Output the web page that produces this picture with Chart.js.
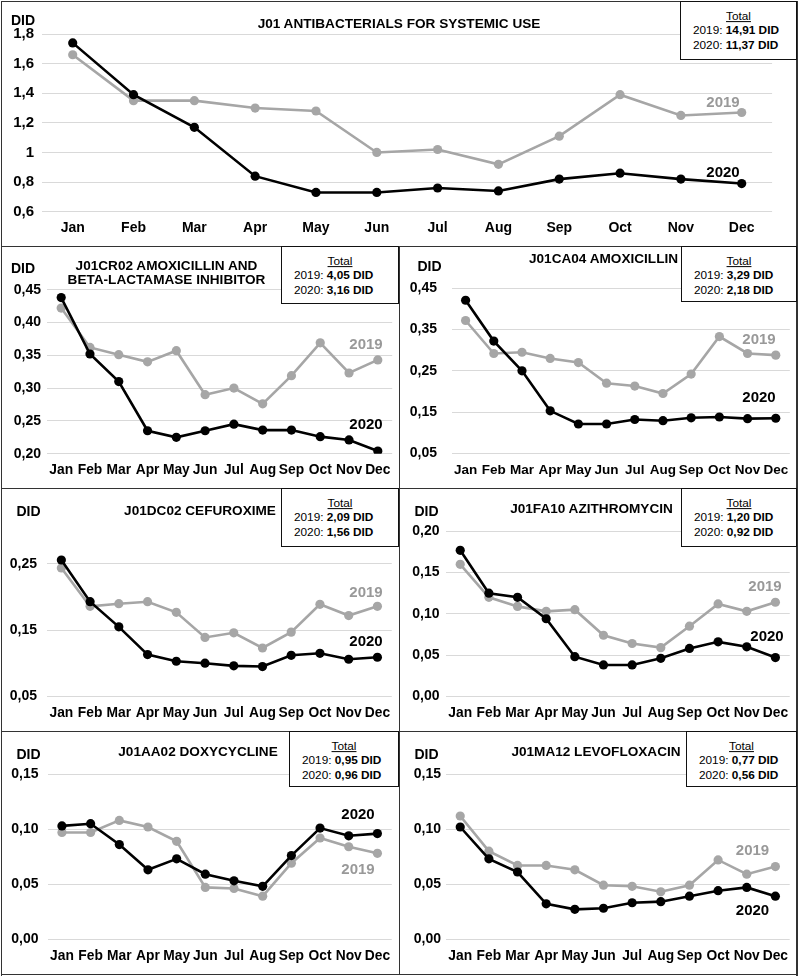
<!DOCTYPE html>
<html>
<head>
<meta charset="utf-8">
<script src="https://cdn.jsdelivr.net/npm/chart.js@4.4.1/dist/chart.umd.min.js"></script>
<style>
  html,body{margin:0;padding:0;background:#fff;}
  #wrap{position:relative;width:800px;height:978px;overflow:hidden;font-family:"Liberation Sans",Arial,sans-serif;color:#000;}
  canvas{position:absolute;}
  .txt{position:absolute;white-space:nowrap;line-height:1;transform:translate(-50%,-50%);font-weight:bold;}
  .line{position:absolute;background:#333;z-index:5;}
  .box{position:absolute;background:#fff;border:1.3px solid #111;box-sizing:border-box;z-index:6;font-size:11.8px;}
  .box .tt{position:absolute;left:50%;transform:translate(-50%,-50%);text-decoration:underline;white-space:nowrap;line-height:1;}
  .box .ln{position:absolute;transform:translateY(-50%);white-space:nowrap;line-height:1;}
</style>
</head>
<body>
<div id="wrap"></div>
<script>
// ---------- DATA ----------
const months = ['Jan','Feb','Mar','Apr','May','Jun','Jul','Aug','Sep','Oct','Nov','Dec'];

const j01_2019 = [1.66,1.35,1.35,1.30,1.28,1.00,1.02,0.92,1.11,1.39,1.25,1.27];
const j01_2020 = [1.74,1.39,1.17,0.84,0.73,0.73,0.76,0.74,0.82,0.86,0.82,0.79];
const j01Ticks = [0.6,0.8,1,1.2,1.4,1.6,1.8];

const cr02_2019 = [0.422,0.362,0.351,0.340,0.357,0.290,0.300,0.276,0.319,0.369,0.323,0.343];
const cr02_2020 = [0.438,0.352,0.310,0.235,0.225,0.235,0.245,0.236,0.236,0.226,0.221,0.204];
const cr02Ticks = [0.20,0.25,0.30,0.35,0.40,0.45];

const ca04_2019 = [0.372,0.292,0.295,0.280,0.270,0.220,0.213,0.195,0.242,0.333,0.292,0.288];
const ca04_2020 = [0.421,0.322,0.250,0.153,0.121,0.121,0.132,0.129,0.136,0.138,0.134,0.135];
const ca04Ticks = [0.05,0.15,0.25,0.35,0.45];

const dc02_2019 = [0.244,0.186,0.190,0.193,0.177,0.139,0.146,0.123,0.147,0.189,0.172,0.186];
const dc02_2020 = [0.256,0.193,0.155,0.113,0.103,0.100,0.096,0.095,0.112,0.115,0.106,0.109];
const dc02Ticks = [0.05,0.15,0.25];

const fa10_2019 = [0.160,0.120,0.109,0.103,0.105,0.074,0.064,0.059,0.085,0.112,0.103,0.114];
const fa10_2020 = [0.177,0.125,0.120,0.094,0.048,0.038,0.038,0.046,0.058,0.066,0.060,0.047];
const fa10Ticks = [0,0.05,0.10,0.15,0.20];

const aa02_2019 = [0.097,0.097,0.108,0.102,0.089,0.047,0.046,0.039,0.069,0.092,0.084,0.078];
const aa02_2020 = [0.103,0.105,0.086,0.063,0.073,0.059,0.053,0.048,0.076,0.101,0.094,0.096];
const aa02Ticks = [0,0.05,0.10,0.15];

const ma12_2019 = [0.112,0.080,0.067,0.067,0.063,0.049,0.048,0.043,0.049,0.072,0.059,0.066];
const ma12_2020 = [0.102,0.073,0.061,0.032,0.027,0.028,0.033,0.034,0.039,0.044,0.047,0.039];
const ma12Ticks = [0,0.05,0.10,0.15];

const titles = [
  ['J01 ANTIBACTERIALS FOR SYSTEMIC USE'],
  ['J01CR02 AMOXICILLIN AND','BETA-LACTAMASE INHIBITOR'],
  ['J01CA04 AMOXICILLIN'],
  ['J01DC02 CEFUROXIME'],
  ['J01FA10 AZITHROMYCIN'],
  ['J01AA02 DOXYCYCLINE'],
  ['J01MA12 LEVOFLOXACIN']
];
const totals2019 = ['14,91','4,05','3,29','2,09','1,20','0,95','0,77'];
const totals2020 = ['11,37','3,16','2,18','1,56','0,92','0,96','0,56'];
const seriesNames = ['2019','2020'];
const axisUnit = 'DID';

// ---------- LAYOUT ----------
const COL19 = '#a6a6a6', COL20 = '#000000', GRID = '#d9d9d9';
const panels = [
  {d19:j01_2019, d20:j01_2020, ticks:j01Ticks, min:0.6, max:1.8, fmt:'g',
   rect:[0,0,800,246], plot:[42.3,34,772.1,211.7], yR:34, xY:228, yF:15, xF:14,
   title:{cx:399, cy:24, lh:0}, did:[23,19.5], box:[680,1,117,59],
   lab19:[723,101], lab20:[723,171]},
  {d19:cr02_2019, d20:cr02_2020, ticks:cr02Ticks, min:0.20, max:0.45, fmt:'f',
   rect:[0,246,399,242], plot:[46.8,289.7,393.8,453.7], yR:41, xY:470.3, yF:14, xF:13.8,
   title:{cx:166.5, cy:265.7, lh:14.5}, did:[23,268.3], box:[281,246,118,58],
   lab19:[366,342.7], lab20:[366,423.3]},
  {d19:ca04_2019, d20:ca04_2020, ticks:ca04Ticks, min:0.05, max:0.45, fmt:'f',
   rect:[399,246,398,242], plot:[451.5,288.3,790.8,453.3], yR:437, xY:470, yF:14, xF:13.5,
   title:{cx:603.5, cy:258.5, lh:0}, did:[429.5,265.7], box:[681,246,116,56],
   lab19:[759,337.7], lab20:[759,395.7]},
  {d19:dc02_2019, d20:dc02_2020, ticks:dc02Ticks, min:0.05, max:0.30, fmt:'f',
   rect:[0,488,399,243], plot:[47,530.9,393.8,696.3], yR:37, xY:713.3, yF:14, xF:13.8,
   title:{cx:200, cy:510.7, lh:0}, did:[28.5,510.7], box:[281,488,118,59],
   lab19:[366,590.7], lab20:[366,640.3]},
  {d19:fa10_2019, d20:fa10_2020, ticks:fa10Ticks, min:0, max:0.20, fmt:'f',
   rect:[399,488,398,243], plot:[445.9,531.3,791.7,696.3], yR:439.5, xY:713.3, yF:14, xF:13.8,
   title:{cx:591.5, cy:508.5, lh:0}, did:[426.5,510.7], box:[681,488,116,59],
   lab19:[765,584.7], lab20:[767,635.3]},
  {d19:aa02_2019, d20:aa02_2020, ticks:aa02Ticks, min:0, max:0.15, fmt:'f',
   rect:[0,731,399,244], plot:[47.6,774.3,393.7,939], yR:38.5, xY:956, yF:14, xF:13.8,
   title:{cx:198, cy:752, lh:0}, did:[28.5,753.7], box:[289,731,110,56],
   lab19:[358,868], lab20:[358,812.7]},
  {d19:ma12_2019, d20:ma12_2020, ticks:ma12Ticks, min:0, max:0.15, fmt:'f',
   rect:[399,731,398,244], plot:[445.9,774.3,791.4,939], yR:441, xY:956, yF:14, xF:13.8,
   title:{cx:596, cy:752, lh:0}, did:[426.5,753.7], box:[686,731,111,56],
   lab19:[752.5,849.3], lab20:[752.5,908.7]}
];

const wrap = document.getElementById('wrap');
const FONT = '"Liberation Sans", Arial, sans-serif';

function addText(str, cx, cy, size, color, z) {
  const d = document.createElement('div');
  d.className = 'txt';
  d.textContent = str;
  d.style.left = cx + 'px'; d.style.top = cy + 'px';
  d.style.fontSize = size + 'px'; d.style.color = color;
  d.style.zIndex = z || 3;
  wrap.appendChild(d);
}
function addLine(x, y, w, h) {
  const d = document.createElement('div');
  d.className = 'line';
  d.style.left = x + 'px'; d.style.top = y + 'px';
  d.style.width = w + 'px'; d.style.height = h + 'px';
  wrap.appendChild(d);
}

panels.forEach((p, i) => {
  const [rx, ry, rw, rh] = p.rect;
  const [pl, pt, pr, pb] = p.plot;
  const cv = document.createElement('canvas');
  cv.width = rw; cv.height = rh;
  cv.style.left = rx + 'px'; cv.style.top = ry + 'px';
  cv.style.width = rw + 'px'; cv.style.height = rh + 'px';
  wrap.appendChild(cv);

  const xLH = p.xF * 1.2;
  const xPad = p.xY - pb - xLH / 2;
  const fmt = v => p.fmt === 'g' ? String(v).replace('.', ',') : v.toFixed(2).replace('.', ',');

  new Chart(cv.getContext('2d'), {
    type: 'line',
    data: {
      labels: months,
      datasets: [
        {label: seriesNames[1], data: p.d20, borderColor: COL20, backgroundColor: COL20,
         borderWidth: 2.6, pointRadius: 4.6, pointBorderWidth: 0, pointBackgroundColor: COL20, tension: 0},
        {label: seriesNames[0], data: p.d19, borderColor: COL19, backgroundColor: COL19,
         borderWidth: 2.6, pointRadius: 4.6, pointBorderWidth: 0, pointBackgroundColor: COL19, tension: 0}
      ]
    },
    options: {
      responsive: false, maintainAspectRatio: false, animation: false, devicePixelRatio: 1,
      layout: {padding: {left: 0, top: pt - ry, right: rx + rw - pr, bottom: 0}},
      plugins: {legend: {display: false}, tooltip: {enabled: false}, title: {display: false}},
      scales: {
        x: {
          type: 'category', offset: true,
          grid: {display: false, drawTicks: false},
          border: {display: false},
          ticks: {autoSkip: false, maxRotation: 0, minRotation: 0, padding: xPad,
                  color: '#000', font: {family: FONT, size: p.xF, weight: 'bold'}},
          afterFit: s => { s.height = ry + rh - pb; }
        },
        y: {
          min: p.min, max: p.max,
          grid: {color: GRID, lineWidth: 1, drawTicks: false},
          border: {display: false},
          ticks: {padding: pl - p.yR, color: '#000', font: {family: FONT, size: p.yF, weight: 'bold'},
                  callback: v => fmt(v)},
          afterBuildTicks: s => { s.ticks = p.ticks.map(v => ({value: v})); },
          afterFit: s => { s.width = pl - rx; }
        }
      }
    }
  });

  // title
  const t = titles[i];
  if (t.length === 1) addText(t[0], p.title.cx, p.title.cy, 13.6, '#000');
  else t.forEach((s, k) => addText(s, p.title.cx, p.title.cy + k * p.title.lh, 13.6, '#000'));
  // axis unit
  addText(axisUnit, p.did[0], p.did[1], 14, '#000');
  // series labels
  addText(seriesNames[0], p.lab19[0], p.lab19[1], 15, '#999999');
  addText(seriesNames[1], p.lab20[0], p.lab20[1], 15, '#000');
  // totals box
  const [bx, by, bw, bh] = p.box;
  const b = document.createElement('div');
  b.className = 'box';
  b.style.left = bx + 'px'; b.style.top = by + 'px';
  b.style.width = bw + 'px'; b.style.height = bh + 'px';
  b.innerHTML =
    '<div class="tt" style="top:14.5px">Total</div>' +
    '<div class="ln" style="left:12px;top:29px">' + seriesNames[0] + ': <b>' + totals2019[i] + ' ' + axisUnit + '</b></div>' +
    '<div class="ln" style="left:12px;top:43.5px">' + seriesNames[1] + ': <b>' + totals2020[i] + ' ' + axisUnit + '</b></div>';
  wrap.appendChild(b);
});

// frame lines
addLine(0.5, 0.5, 797, 1.5);      // top
addLine(0.5, 973.5, 797, 1.5);    // bottom
addLine(0.5, 0.5, 1.5, 975);      // left
addLine(796, 0.5, 1.5, 975);      // right
addLine(0.5, 245.5, 797, 1.5);    // row 1/2
addLine(0.5, 487.5, 797, 1.5);    // row 2/3
addLine(0.5, 730.5, 797, 1.5);    // row 3/4
addLine(398.5, 245.5, 1.5, 729);  // column divider
</script>
</body>
</html>
